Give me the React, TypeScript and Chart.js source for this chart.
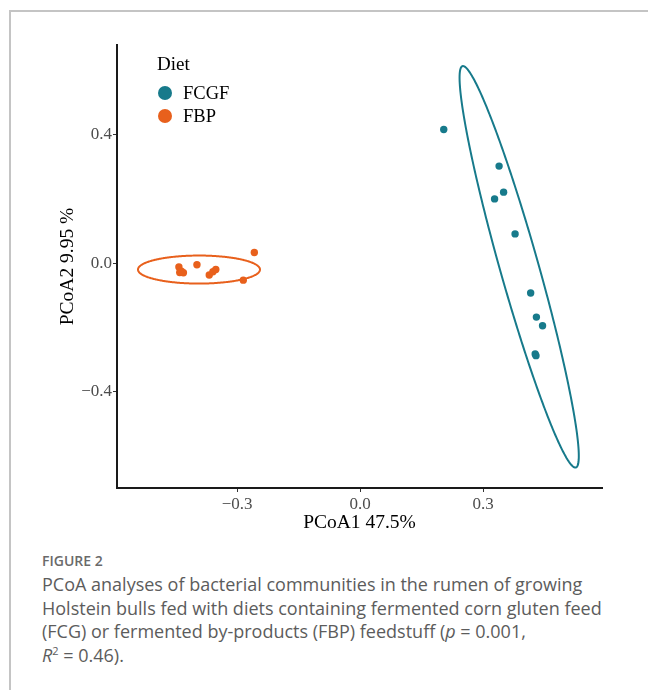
import React, { useEffect, useRef } from "react";
import { Chart, registerables } from "chart.js";
Chart.register(...registerables);

// ---- data ----
const groups = ["FCGF", "FBP"];
const fcgfX = [0.204, 0.339, 0.35, 0.328, 0.378, 0.416, 0.43, 0.445, 0.427, 0.429];
const fcgfY = [0.416, 0.302, 0.221, 0.2, 0.091, -0.093, -0.168, -0.195, -0.283, -0.288];
const fbpX = [-0.258, -0.442, -0.44, -0.431, -0.436, -0.398, -0.368, -0.359, -0.352, -0.285];
const fbpY = [0.033, -0.012, -0.029, -0.03, -0.025, -0.005, -0.037, -0.027, -0.02, -0.053];

// 95% ellipses (center + conjugate semi-diameters, data units)
const fcgfEllipseCenter = [0.388, -0.0115];
const fcgfEllipseAxisA = [-0.137, 0.625];
const fcgfEllipseAxisB = [0.0488, 0];
const fbpEllipseCenter = [-0.393, -0.02];
const fbpEllipseAxisA = [0.1488, 0];
const fbpEllipseAxisB = [0, 0.0436];

const xTickValues = [-0.3, 0.0, 0.3];
const xTickLabels = ["\u22120.3", "0.0", "0.3"];
const yTickValues = [-0.4, 0.0, 0.4];
const yTickLabels = ["\u22120.4", "0.0", "0.4"];
const xRange = [-0.593, 0.59];
const yRange = [-0.7, 0.679];
const xAxisTitle = "PCoA1 47.5%";
const yAxisTitle = "PCoA2 9.95 %";
const legendTitle = "Diet";

const TEAL = "#177a8b";
const ORANGE = "#e8601c";
const SERIF = '"Liberation Serif", "Times New Roman", serif';

function ellipsePoints(c: number[], a: number[], b: number[], n = 180) {
  const pts: { x: number; y: number }[] = [];
  for (let i = 0; i <= n; i++) {
    const t = (i / n) * Math.PI * 2 + 0.7;
    pts.push({
      x: c[0] + a[0] * Math.cos(t) + b[0] * Math.sin(t),
      y: c[1] + a[1] * Math.cos(t) + b[1] * Math.sin(t),
    });
  }
  return pts;
}

function zip(xs: number[], ys: number[]) {
  return xs.map((x, i) => ({ x, y: ys[i] }));
}

export default function App() {
  const ref = useRef<HTMLCanvasElement | null>(null);

  useEffect(() => {
    if (!ref.current) return;
    const ellipseStyle = {
      showLine: true,
      borderWidth: 2,
      pointRadius: 0,
      fill: false,
      tension: 0.001,
      borderCapStyle: "round",
      borderJoinStyle: "round",
    };
    const chart = new Chart(ref.current, {
      type: "scatter",
      data: {
        datasets: [
          {
            label: groups[0] + " ellipse",
            data: ellipsePoints(fcgfEllipseCenter, fcgfEllipseAxisA, fcgfEllipseAxisB),
            borderColor: TEAL,
            ...ellipseStyle,
          } as any,
          {
            label: groups[1] + " ellipse",
            data: ellipsePoints(fbpEllipseCenter, fbpEllipseAxisA, fbpEllipseAxisB),
            borderColor: ORANGE,
            ...ellipseStyle,
          } as any,
          {
            label: groups[0],
            data: zip(fcgfX, fcgfY),
            backgroundColor: TEAL,
            borderWidth: 0,
            pointRadius: 3.7,
          },
          {
            label: groups[1],
            data: zip(fbpX, fbpY),
            backgroundColor: ORANGE,
            borderWidth: 0,
            pointRadius: 3.7,
          },
        ],
      },
      options: {
        responsive: false,
        animation: false,
        devicePixelRatio: 1,
        layout: { padding: { left: 0, top: 45, right: 46, bottom: 0 } },
        plugins: {
          legend: { display: false },
          tooltip: { enabled: false },
        },
        scales: {
          x: {
            type: "linear",
            min: xRange[0],
            max: xRange[1],
            afterBuildTicks: (s: any) => {
              s.ticks = xTickValues.map((v) => ({ value: v }));
            },
            afterFit: (s: any) => {
              s.height = 57;
            },
            ticks: {
              callback: (_v: any, i: number) => xTickLabels[i],
              color: "#4d4d4d",
              font: { family: SERIF, size: 17 },
              padding: 2,
              maxRotation: 0,
            },
            grid: { drawOnChartArea: false, drawTicks: true, tickLength: 4, color: "#333", lineWidth: 1 },
            border: { display: true, color: "#1a1a1a", width: 2 },
            title: {
              display: true,
              text: xAxisTitle,
              color: "#000",
              font: { family: SERIF, size: 19.5 },
              padding: { top: 0, bottom: 10 },
            },
          },
          y: {
            type: "linear",
            min: yRange[0],
            max: yRange[1],
            afterBuildTicks: (s: any) => {
              s.ticks = yTickValues.map((v) => ({ value: v }));
            },
            afterFit: (s: any) => {
              s.width = 117;
            },
            ticks: {
              callback: (_v: any, i: number) => yTickLabels[i],
              color: "#4d4d4d",
              font: { family: SERIF, size: 17 },
              padding: 1,
            },
            grid: { drawOnChartArea: false, drawTicks: true, tickLength: 4, color: "#333", lineWidth: 1 },
            border: { display: true, color: "#1a1a1a", width: 2 },
            title: {
              display: true,
              text: yAxisTitle,
              color: "#000",
              font: { family: SERIF, size: 19.5 },
              padding: { top: 56, bottom: 0 },
            },
          },
        },
      },
    });
    return () => chart.destroy();
  }, []);

  const legendItems = [
    { label: groups[0], color: TEAL, top: 93 },
    { label: groups[1], color: ORANGE, top: 116 },
  ];

  return (
    <div style={{ position: "absolute", left: 0, top: 0, width: 648, height: 690, background: "#fff", overflow: "hidden" }}>
      <div
        style={{
          position: "absolute",
          left: 9,
          top: 10,
          width: 660,
          height: 700,
          borderTop: "2px solid #c4c4c4",
          borderLeft: "2px solid #c4c4c4",
        }}
      />
      <canvas ref={ref} width={648} height={545} style={{ position: "absolute", left: 0, top: 0 }} />
      <div
        style={{
          position: "absolute",
          left: 157,
          top: 52,
          font: `19px ${SERIF}`,
          color: "#000",
          lineHeight: "24px",
        }}
      >
        {legendTitle}
      </div>
      {legendItems.map((it) => (
        <div key={it.label}>
          <div
            style={{
              position: "absolute",
              left: 158,
              top: it.top - 7,
              width: 14,
              height: 14,
              borderRadius: 7,
              background: it.color,
            }}
          />
          <div
            style={{
              position: "absolute",
              left: 183,
              top: it.top - 11,
              font: `18.5px ${SERIF}`,
              lineHeight: "22px",
              color: "#000",
            }}
          >
            {it.label}
          </div>
        </div>
      ))}
      <div
        style={{
          position: "absolute",
          left: 42,
          top: 551,
          font: '600 14px "Open Sans", sans-serif',
          color: "#6a6a6a",
        }}
      >
        FIGURE 2
      </div>
      <div
        style={{
          position: "absolute",
          left: 42,
          top: 573,
          font: '18px "Open Sans", sans-serif',
          lineHeight: "23.5px",
          color: "#5c5c5c",
          whiteSpace: "nowrap",
        }}
      >
        PCoA analyses of bacterial communities in the rumen of growing
        <br />
        Holstein bulls fed with diets containing fermented corn gluten feed
        <br />
        (FCG) or fermented by-products (FBP) feedstuff (<i>p</i> = 0.001,
        <br />
        <i>R</i>
        <sup style={{ fontSize: "11px", verticalAlign: "7px", lineHeight: 0 }}>2</sup> = 0.46).
      </div>
    </div>
  );
}
